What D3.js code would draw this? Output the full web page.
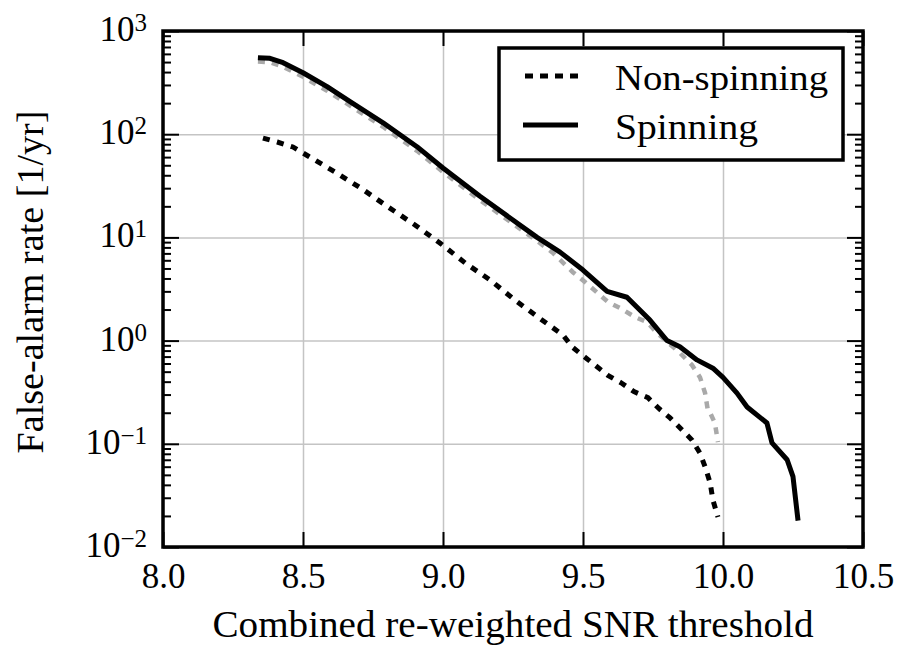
<!DOCTYPE html>
<html>
<head>
<meta charset="utf-8">
<script src="https://cdn.jsdelivr.net/npm/d3@7"></script>
<style>
  html, body { margin: 0; padding: 0; background: #fff; }
  svg { display: block; }
</style>
</head>
<body>
<svg id="chart" width="897" height="645"></svg>
<script>
// ---------- data ----------
const xTicks = [8.0, 8.5, 9.0, 9.5, 10.0, 10.5];
const yTickExps = [3, 2, 1, 0, -1, -2];
const seriesNames = ["Non-spinning", "Spinning"];

const spinX   = [8.339, 8.382, 8.429, 8.5, 8.586, 8.668, 8.786, 8.907, 9.0, 9.132, 9.336, 9.418, 9.5, 9.586, 9.657, 9.739, 9.8, 9.846, 9.907, 9.964, 10.0, 10.05, 10.086, 10.157, 10.175, 10.229, 10.25, 10.268];
const spinFAR = [551, 543, 493, 394, 289, 207, 129, 75.7, 47, 25, 10, 7.2, 4.83, 3.0, 2.63, 1.58, 1.0, 0.87, 0.65, 0.54, 0.44, 0.31, 0.227, 0.159, 0.102, 0.070, 0.048, 0.018];

const greyX   = [8.339, 8.382, 8.429, 8.5, 8.586, 8.668, 8.786, 8.907, 9.0, 9.132, 9.346, 9.393, 9.464, 9.507, 9.589, 9.632, 9.686, 9.729, 9.764, 9.846, 9.889, 9.918, 9.936, 9.946, 9.954, 9.971, 9.982];
const greyFAR = [505, 497, 451, 360, 264, 189, 118, 69, 43, 23, 8.83, 7.06, 4.6, 3.7, 2.37, 2.07, 1.69, 1.51, 1.19, 0.76, 0.58, 0.44, 0.31, 0.21, 0.2, 0.159, 0.104];

const nonX   = [8.357, 8.408, 8.464, 8.518, 8.614, 8.711, 8.804, 8.9, 8.989, 9.079, 9.168, 9.257, 9.339, 9.429, 9.461, 9.507, 9.589, 9.636, 9.682, 9.732, 9.771, 9.811, 9.854, 9.889, 9.918, 9.936, 9.954, 9.964, 9.982];
const nonFAR = [91.8, 84, 75.2, 61.5, 43.1, 29.5, 19.7, 13.2, 8.83, 5.65, 3.87, 2.47, 1.69, 1.13, 0.87, 0.69, 0.46, 0.39, 0.32, 0.28, 0.22, 0.178, 0.136, 0.109, 0.081, 0.060, 0.042, 0.0285, 0.0195];

// ---------- layout ----------
const FONT = "'Liberation Serif', 'Times New Roman', serif";
const svg = d3.select("#chart").attr("font-family", FONT);
const L = 163, R = 863, T = 31, B = 547;

const x = d3.scaleLinear().domain([8, 10.5]).range([L, R]);
const y = d3.scaleLog().domain([1e-2, 1e3]).range([B, T]);

const majorY = yTickExps.map(e => Math.pow(10, e));
const minorY = [];
for (let e = -2; e < 3; e++) for (let m = 2; m <= 9; m++) minorY.push(m * Math.pow(10, e));

// grid
svg.append("g").attr("transform", `translate(0,${B})`)
  .call(d3.axisBottom(x).tickValues(xTicks).tickSize(-(B - T)).tickFormat(""))
  .call(g => g.select(".domain").remove())
  .call(g => g.selectAll("line").attr("stroke", "#c4c4c4").attr("stroke-width", 1.5));
svg.append("g").attr("transform", `translate(${L},0)`)
  .call(d3.axisLeft(y).tickValues(majorY).tickSize(-(R - L)).tickFormat(""))
  .call(g => g.select(".domain").remove())
  .call(g => g.selectAll("line").attr("stroke", "#c4c4c4").attr("stroke-width", 1.5));

// lines
const line = (xs, vs) => d3.line().x((d, i) => x(xs[i])).y(d => y(d))(vs);

svg.append("path").attr("d", line(greyX, greyFAR))
  .attr("fill", "none").attr("stroke", "#a9a9a9").attr("stroke-width", 4.5)
  .attr("stroke-dasharray", "7,7");
svg.append("path").attr("d", line(spinX, spinFAR))
  .attr("fill", "none").attr("stroke", "#000").attr("stroke-width", 5)
  .attr("stroke-linejoin", "round");
svg.append("path").attr("d", line(nonX, nonFAR))
  .attr("fill", "none").attr("stroke", "#000").attr("stroke-width", 5)
  .attr("stroke-dasharray", "7,7.5");

// ticks (inward)
function styleTicks(g) {
  g.attr("font-family", FONT);
  g.select(".domain").remove();
  g.selectAll("line").attr("stroke", "#000").attr("stroke-width", 2);
}
svg.append("g").attr("transform", `translate(0,${B})`)
  .call(d3.axisBottom(x).tickValues(xTicks).tickSize(-15).tickPadding(16).tickFormat(d3.format(".1f")))
  .call(styleTicks)
  .call(g => g.attr("font-size", 35))
  .call(g => g.selectAll("text").attr("font-size", 35).attr("font-family", FONT).attr("fill", "#000"));
svg.append("g").attr("transform", `translate(0,${T})`)
  .call(d3.axisTop(x).tickValues(xTicks).tickSize(-15).tickFormat(""))
  .call(styleTicks);
svg.append("g").attr("transform", `translate(${L},0)`)
  .call(d3.axisLeft(y).tickValues(majorY).tickSize(-16).tickFormat(""))
  .call(styleTicks);
svg.append("g").attr("transform", `translate(${L},0)`)
  .call(d3.axisLeft(y).tickValues(minorY).tickSize(-8).tickFormat(""))
  .call(styleTicks);
svg.append("g").attr("transform", `translate(${R},0)`)
  .call(d3.axisRight(y).tickValues(majorY).tickSize(-16).tickFormat(""))
  .call(styleTicks);
svg.append("g").attr("transform", `translate(${R},0)`)
  .call(d3.axisRight(y).tickValues(minorY).tickSize(-8).tickFormat(""))
  .call(styleTicks);

// y tick labels 10^n
yTickExps.forEach(e => {
  const t = svg.append("text")
    .attr("x", 147).attr("y", y(Math.pow(10, e)) + 10)
    .attr("text-anchor", "end").attr("font-size", 35).attr("font-family", FONT);
  t.append("tspan").text("10");
  t.append("tspan").attr("font-size", 25).attr("dy", -10)
    .text(e < 0 ? "\u2212" + Math.abs(e) : String(e));
});

// frame
svg.append("rect").attr("x", L).attr("y", T).attr("width", R - L).attr("height", B - T)
  .attr("fill", "none").attr("stroke", "#000").attr("stroke-width", 3.5);

// axis labels
svg.append("text").attr("x", 513).attr("y", 637).attr("text-anchor", "middle")
  .attr("font-size", 37).attr("font-family", FONT)
  .attr("textLength", 601).attr("lengthAdjust", "spacingAndGlyphs")
  .text("Combined re-weighted SNR threshold");
svg.append("text").attr("transform", "translate(43,282) rotate(-90)").attr("text-anchor", "middle")
  .attr("font-size", 37).attr("font-family", FONT)
  .attr("textLength", 343).attr("lengthAdjust", "spacingAndGlyphs")
  .text("False-alarm rate [1/yr]");

// legend
const lg = svg.append("g");
lg.append("rect").attr("x", 499).attr("y", 48).attr("width", 344).attr("height", 112)
  .attr("fill", "#fff").attr("stroke", "#000").attr("stroke-width", 3.5);
lg.append("line").attr("x1", 525).attr("x2", 578).attr("y1", 76).attr("y2", 76)
  .attr("stroke", "#000").attr("stroke-width", 5).attr("stroke-dasharray", "8,7");
lg.append("line").attr("x1", 523).attr("x2", 578).attr("y1", 125).attr("y2", 125)
  .attr("stroke", "#000").attr("stroke-width", 5);
lg.append("text").attr("x", 615).attr("y", 90).attr("font-size", 36).attr("font-family", FONT)
  .attr("textLength", 213).attr("lengthAdjust", "spacingAndGlyphs").text(seriesNames[0]);
lg.append("text").attr("x", 615).attr("y", 139).attr("font-size", 36).attr("font-family", FONT)
  .attr("textLength", 143).attr("lengthAdjust", "spacingAndGlyphs").text(seriesNames[1]);
</script>
</body>
</html>
